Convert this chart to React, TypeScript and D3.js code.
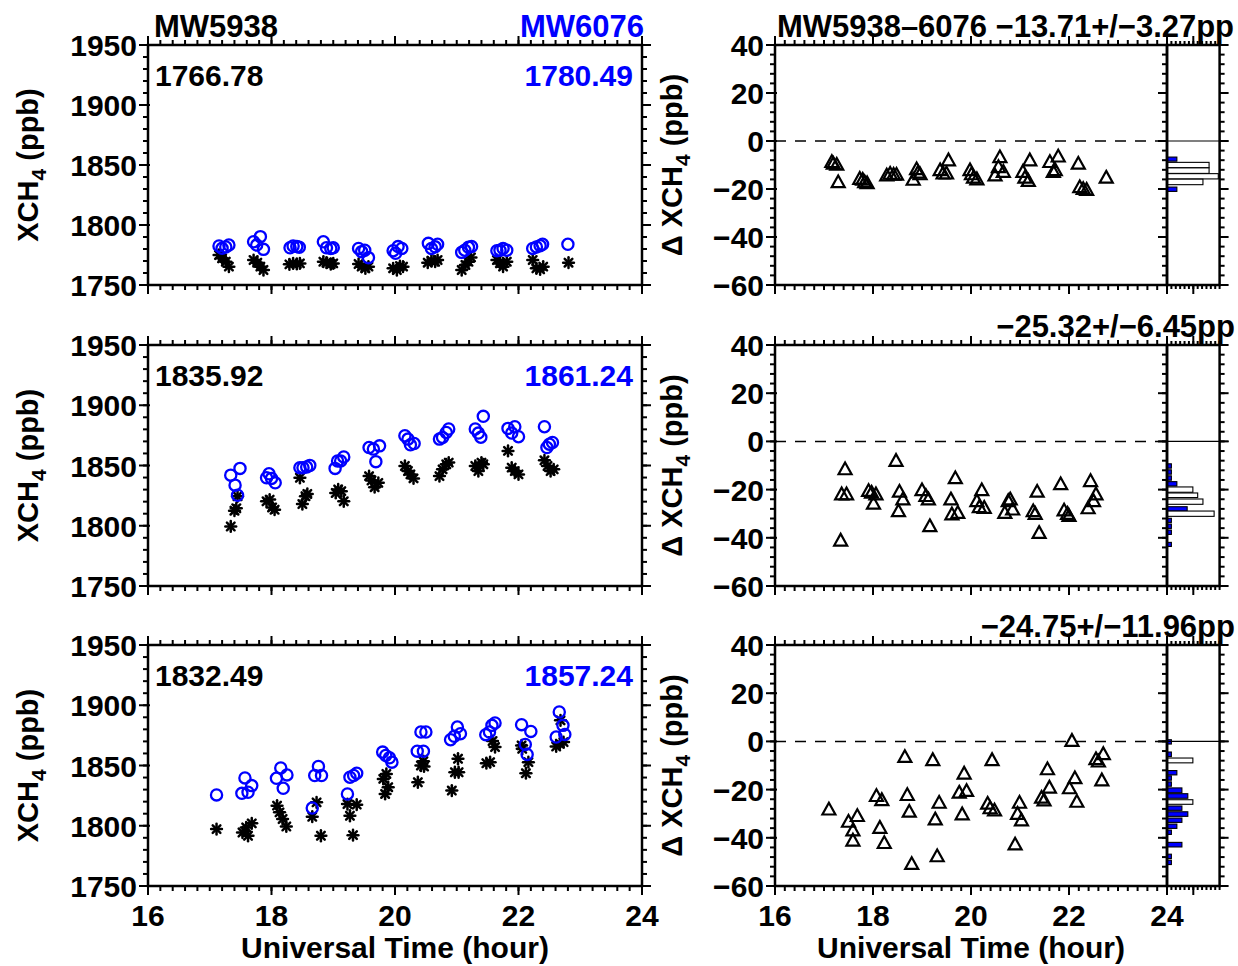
import React from 'react';
import * as d3 from 'd3';

// ---------------- data ----------------
type P = [number, number];
type Bin = [number, number, number, number]; // [upper, lower, length, isBlue]

const xTicks = [16, 18, 20, 22, 24];
const leftYTicks = [1750, 1800, 1850, 1900, 1950];
const diffYTicks = [-60, -40, -20, 0, 20, 40];

const station1 = 'MW5938';
const station2 = 'MW6076';

const mean5938 = ['1766.78', '1835.92', '1832.49'];
const mean6076 = ['1780.49', '1861.24', '1857.24'];
// the reference cuts these titles at the right edge, after "pp"
const diffTitles = ['MW5938\u20136076 \u221213.71+/\u22123.27pp', '\u221225.32+/\u22126.45pp', '\u221224.75+/\u221211.96pp'];

const mw5938Day1: P[] = [
  [17.15, 1775], [17.2, 1772.2], [17.26, 1769.4], [17.31, 1765.3],
  [17.71, 1770.8], [17.77, 1768.6], [17.82, 1765.3], [17.87, 1762.5],
  [18.29, 1767.2], [18.35, 1768], [18.41, 1767.6], [18.46, 1768],
  [18.84, 1769.4], [18.89, 1768.6], [18.96, 1767.5], [19.0, 1768],
  [19.41, 1767.5], [19.46, 1765.3], [19.52, 1763.9], [19.57, 1765.3],
  [19.97, 1763.9], [20.03, 1762.5], [20.08, 1765.8], [20.13, 1765.3],
  [20.53, 1768.6], [20.59, 1770.3], [20.65, 1769.4], [20.69, 1770.8],
  [21.08, 1762.5], [21.14, 1766.7], [21.19, 1769.4], [21.23, 1773],
  [21.65, 1770.8], [21.7, 1768], [21.75, 1765.3], [21.81, 1769.4],
  [22.23, 1770.8], [22.29, 1763.9], [22.35, 1763], [22.4, 1765.3],
  [22.81, 1768.6],
];
const mw6076Day1: P[] = [
  [17.15, 1782.5], [17.2, 1780.6], [17.26, 1781.7], [17.31, 1783.3],
  [17.71, 1786.1], [17.76, 1783.3], [17.82, 1790.3], [17.87, 1779.7],
  [18.3, 1781], [18.35, 1782.5], [18.41, 1782], [18.45, 1781.5],
  [18.84, 1786], [18.89, 1781], [18.96, 1780.5], [19.0, 1781],
  [19.41, 1780.5], [19.46, 1777.8], [19.51, 1779], [19.57, 1772.8],
  [19.97, 1778.6], [20.01, 1776.4], [20.05, 1782], [20.11, 1780.5],
  [20.54, 1784.7], [20.59, 1780.5], [20.65, 1781.8], [20.69, 1783.9],
  [21.08, 1777.2], [21.13, 1779], [21.19, 1781.4], [21.24, 1782],
  [21.65, 1778.6], [21.7, 1779], [21.75, 1780.5], [21.81, 1779],
  [22.23, 1780.5], [22.29, 1781.7], [22.35, 1782.8], [22.39, 1783.9],
  [22.8, 1783.9],
];
const mw5938Day2: P[] = [
  [17.34, 1799.4], [17.4, 1812.5], [17.43, 1814.5], [17.45, 1824.5],
  [17.92, 1820.3], [17.97, 1821.7], [18.01, 1815.2], [18.05, 1813.3],
  [18.46, 1839.8], [18.5, 1818], [18.55, 1824.5], [18.58, 1826.4],
  [19.04, 1827.2], [19.08, 1830.1], [19.13, 1828.7], [19.17, 1820.3],
  [19.58, 1841.2], [19.62, 1837.6], [19.67, 1832], [19.73, 1835.6],
  [20.16, 1849.6], [20.21, 1845.4], [20.25, 1842.6], [20.3, 1839.3],
  [20.72, 1841.2], [20.77, 1846.8], [20.83, 1851], [20.87, 1852.4],
  [21.3, 1849.6], [21.35, 1845.4], [21.4, 1852.4], [21.43, 1851],
  [21.83, 1862.1], [21.89, 1848.2], [21.94, 1845.4], [22.0, 1842.6],
  [22.42, 1854.3], [22.47, 1849.6], [22.52, 1845.4], [22.57, 1846.8],
];
const mw6076Day2: P[] = [
  [17.34, 1842], [17.41, 1833.7], [17.45, 1825.3], [17.49, 1847.6],
  [17.92, 1839.8], [17.96, 1843.1], [18.0, 1839.3], [18.06, 1835.6],
  [18.46, 1848.2], [18.51, 1848.2], [18.57, 1848.7], [18.62, 1850.1],
  [19.03, 1847.6], [19.07, 1853.8], [19.12, 1853.8], [19.17, 1857.1],
  [19.58, 1864.9], [19.65, 1863.6], [19.69, 1853.2], [19.75, 1866.3],
  [20.16, 1874.7], [20.21, 1871.9], [20.25, 1867.2], [20.31, 1868.2],
  [20.72, 1871.9], [20.77, 1873.3], [20.83, 1877.4], [20.87, 1880.3],
  [21.3, 1880.3], [21.35, 1876.9], [21.39, 1873.5], [21.43, 1890.8],
  [21.83, 1880.8], [21.89, 1876.9], [21.94, 1882.2], [22.0, 1873.9],
  [22.42, 1882.2], [22.46, 1864.9], [22.5, 1867.7], [22.55, 1869.1],
];
const mw5938Day3: P[] = [
  [17.11, 1797.2],
  [17.53, 1794.4], [17.59, 1798.6], [17.62, 1791.7], [17.68, 1802],
  [18.09, 1816.7], [18.13, 1811.1], [18.18, 1805.6], [18.24, 1799.4],
  [18.66, 1807.5], [18.73, 1819.4], [18.8, 1791.7],
  [19.23, 1818], [19.27, 1808.3], [19.32, 1792.2], [19.38, 1817.5],
  [19.81, 1838.9], [19.84, 1826.4], [19.86, 1843], [19.89, 1832],
  [20.37, 1836.1], [20.42, 1850], [20.46, 1853.6], [20.47, 1849.2],
  [20.92, 1829.2], [20.97, 1844.4], [21.02, 1855.6], [21.03, 1844.4],
  [21.48, 1851.9], [21.54, 1852.8], [21.58, 1870.3], [21.62, 1865.3],
  [22.05, 1866.7], [22.06, 1863.9], [22.12, 1843.6], [22.16, 1852.8],
  [22.61, 1865.8], [22.67, 1868.1], [22.68, 1887.5], [22.73, 1869.4],
];
const mw6076Day3: P[] = [
  [17.11, 1825.6],
  [17.52, 1826.9], [17.57, 1839.7], [17.62, 1827.8], [17.68, 1833.3],
  [18.08, 1839.4], [18.15, 1848], [18.19, 1831.1], [18.25, 1842.2],
  [18.66, 1814.7], [18.7, 1841.7], [18.76, 1849.2], [18.81, 1841.7],
  [19.23, 1826.4], [19.27, 1840.3], [19.33, 1841.7], [19.38, 1843.6],
  [19.8, 1861.1], [19.85, 1858.3], [19.91, 1856.4], [19.95, 1852.8],
  [20.36, 1861.9], [20.42, 1877.8], [20.46, 1861.9], [20.5, 1877.8],
  [20.9, 1871.4], [20.96, 1874.2], [21.01, 1881.9], [21.06, 1876.4],
  [21.47, 1875.6], [21.53, 1877.8], [21.57, 1883.3], [21.62, 1885.3],
  [22.05, 1883.9], [22.11, 1867.5], [22.14, 1859.2], [22.2, 1878.3],
  [22.61, 1873.6], [22.66, 1894.4], [22.72, 1883.3], [22.75, 1875.8],
];

const diffDay1: P[] = [
  [17.16, -8.8], [17.19, -9.5], [17.26, -9.9], [17.29, -17.2],
  [17.73, -15.8], [17.79, -16.2], [17.83, -17.2], [17.88, -17.6],
  [18.28, -14.4], [18.35, -13.7], [18.42, -14.1], [18.48, -14.1],
  [18.82, -16.2], [18.89, -11.8], [18.92, -13.2], [18.96, -13.9],
  [19.37, -12.2], [19.43, -13.6], [19.5, -13.6], [19.54, -8.1],
  [19.98, -12.2], [20.01, -13.9], [20.05, -15.3], [20.12, -16],
  [20.49, -14.4], [20.56, -10.9], [20.59, -6.8], [20.66, -12.9],
  [21.06, -12.9], [21.1, -15.3], [21.17, -16.7], [21.2, -8.1],
  [21.61, -8.8], [21.68, -12.9], [21.72, -12.2], [21.78, -6.5],
  [22.19, -9.5], [22.22, -19.3], [22.29, -20], [22.36, -20.4],
  [22.76, -15.3],
];
const diffDay2: P[] = [
  [17.34, -41.2], [17.36, -22], [17.43, -11.6], [17.46, -22],
  [17.91, -20.6], [17.97, -21.3], [18.01, -25.9], [18.06, -22],
  [18.47, -8.1], [18.52, -29], [18.54, -20.9], [18.61, -24.1],
  [19.0, -20.3], [19.08, -22.7], [19.13, -24.1], [19.16, -35.2],
  [19.59, -24.1], [19.61, -30.3], [19.68, -15.3], [19.73, -29.7],
  [20.12, -24.8], [20.17, -27.3], [20.22, -20.3], [20.27, -27.6],
  [20.69, -29.7], [20.76, -24.8], [20.8, -24.1], [20.85, -28.3],
  [21.27, -29], [21.31, -30.1], [21.35, -20.9], [21.39, -38],
  [21.83, -17.8], [21.9, -28.7], [21.97, -30.1], [22.0, -31],
  [22.39, -27.8], [22.44, -16.5], [22.5, -24.8], [22.55, -22],
];
const diffDay3: P[] = [
  [17.1, -28.3],
  [17.5, -33.4], [17.59, -37], [17.59, -41.2], [17.68, -31],
  [18.07, -22.7], [18.14, -35.9], [18.18, -24.4], [18.23, -42.2],
  [18.65, -6.5], [18.7, -22.3], [18.74, -29.2], [18.79, -50.9],
  [19.22, -7.8], [19.27, -32.4], [19.31, -47.7], [19.35, -25.5],
  [19.76, -21.3], [19.82, -30.3], [19.86, -13.4], [19.91, -20.6],
  [20.34, -25.9], [20.39, -27.8], [20.43, -7.8], [20.48, -28.7],
  [20.9, -42.8], [20.95, -30.1], [20.99, -25.5], [21.03, -32.8],
  [21.44, -23.4], [21.49, -24.5], [21.56, -11.6], [21.6, -19.2],
  [22.01, -19.5], [22.06, 0.2], [22.12, -15.3], [22.16, -25.1],
  [22.55, -7.4], [22.6, -8.4], [22.67, -16.2], [22.7, -5.3],
];

const histDay1: Bin[] = [
  [-6.7, -8.4, 4.5, 1], [-8.9, -11.1, 19.2, 0], [-11.2, -13.5, 19.2, 0],
  [-13.6, -15.8, 23.4, 0], [-15.9, -18.2, 16.4, 0], [-19.2, -21.0, 4.5, 1],
];
const histDay2: Bin[] = [
  [-9.3, -11.1, 2, 1], [-11.8, -13.6, 2, 1], [-14.3, -16.1, 2, 1], [-16.7, -18.5, 4.5, 1],
  [-18.9, -21.1, 11.8, 0], [-21.4, -23.3, 14, 0], [-23.9, -26.1, 16.4, 0],
  [-27.1, -28.9, 9.2, 1], [-28.9, -31.1, 21.5, 0], [-31.9, -33.6, 2, 1],
  [-34.3, -36.1, 2, 1], [-36.8, -38.6, 2, 1], [-41.9, -43.6, 2, 1],
];
const histDay3: Bin[] = [
  [0.7, -1.1, 2, 1], [-4.4, -6.3, 2, 1], [-6.9, -8.9, 11.8, 0], [-12.1, -13.9, 4.5, 1],
  [-14.3, -16.1, 2, 1], [-16.8, -18.6, 2, 1], [-19.3, -21.3, 6.8, 1], [-21.7, -23.6, 9.5, 1],
  [-24.2, -26.1, 11.8, 0], [-26.8, -28.6, 6.8, 1], [-29.2, -31.1, 9.5, 1], [-31.8, -33.6, 6.8, 1],
  [-34.3, -36.1, 4.5, 1], [-36.8, -38.6, 2, 1], [-41.9, -43.8, 6.8, 1], [-46.8, -48.6, 2, 1],
  [-49.3, -51.1, 2, 1],
];

const days = [
  { black: mw5938Day1, blue: mw6076Day1, diff: diffDay1, hist: histDay1 },
  { black: mw5938Day2, blue: mw6076Day2, diff: diffDay2, hist: histDay2 },
  { black: mw5938Day3, blue: mw6076Day3, diff: diffDay3, hist: histDay3 },
];

// ---------------- layout ----------------
const W = 1238;
const H = 966;
const LX: [number, number] = [148, 642];
const RX: [number, number] = [775, 1167];
const HX: [number, number] = [1167, 1219.6];
const ROWS: [number, number][] = [[45, 285], [345, 586], [645, 886]];
const FONT = '"Liberation Sans", Arial, Helvetica, sans-serif';
const BLUE = '#0000ff';
const AX = 2.5;
const MAJ = 9;
const MIN = 5;

const range = (a: number, b: number, s: number) => d3.range(Math.round((b - a) / s) + 1).map((i) => a + i * s);

function Asterisk({ x, y }: { x: number; y: number }) {
  const r = 5.4;
  return (
    <g stroke="#000" strokeWidth={2.5} strokeLinecap="round">
      {[0, 45, 90, 135].map((a) => {
        const dx = r * Math.cos((a * Math.PI) / 180);
        const dy = r * Math.sin((a * Math.PI) / 180);
        return <line key={a} x1={x - dx} y1={y - dy} x2={x + dx} y2={y + dy} />;
      })}
    </g>
  );
}

function Triangle({ x, y }: { x: number; y: number }) {
  const s = 6.5;
  return (
    <path
      d={`M${x},${y - s * 1.05} L${x + s},${y + s * 0.75} L${x - s},${y + s * 0.75} Z`}
      fill="none"
      stroke="#000"
      strokeWidth={2.2}
      strokeLinejoin="miter"
    />
  );
}

function XTicks({ x, yb, yt, minorStep }: { x: d3.ScaleLinear<number, number>; yb: number; yt: number; minorStep: number }) {
  return (
    <g stroke="#000" strokeWidth={2}>
      {range(16, 24, minorStep).map((t, i) => (
        <g key={i}>
          <line x1={x(t)} x2={x(t)} y1={yb} y2={yb + MIN} />
          <line x1={x(t)} x2={x(t)} y1={yt} y2={yt - MIN} />
        </g>
      ))}
      {xTicks.map((t) => (
        <g key={t}>
          <line x1={x(t)} x2={x(t)} y1={yb} y2={yb + MAJ} />
          <line x1={x(t)} x2={x(t)} y1={yt} y2={yt - MAJ} />
        </g>
      ))}
    </g>
  );
}

function YTicks({ y, majors, minors, xl, xr, rightDir }: { y: d3.ScaleLinear<number, number>; majors: number[]; minors: number[]; xl: number; xr: number; rightDir: number }) {
  return (
    <g stroke="#000" strokeWidth={2}>
      {minors.map((v, i) => (
        <g key={i}>
          <line x1={xl} x2={xl - MIN} y1={y(v)} y2={y(v)} />
          <line x1={xr} x2={xr + rightDir * MIN} y1={y(v)} y2={y(v)} />
        </g>
      ))}
      {majors.map((v) => (
        <g key={v}>
          <line x1={xl + 2} x2={xl - MAJ} y1={y(v)} y2={y(v)} />
          <line x1={xr} x2={xr + rightDir * MAJ} y1={y(v)} y2={y(v)} />
        </g>
      ))}
    </g>
  );
}

function YLabel({ x, y, delta }: { x: number; y: number; delta?: boolean }) {
  return (
    <text transform={`translate(${x},${y}) rotate(-90)`} textAnchor="middle" fontFamily={FONT} fontWeight="bold" fontSize={29} fill="#000">
      {delta ? '\u0394 ' : ''}XCH
      <tspan dy={8} fontSize={21}>4</tspan>
      <tspan dy={-8}> (ppb)</tspan>
    </text>
  );
}

function LeftPanel({ row }: { row: number }) {
  const [y0, y1] = ROWS[row];
  const d = days[row];
  const x = d3.scaleLinear().domain([16, 24]).range(LX);
  const y = d3.scaleLinear().domain([1750, 1950]).range([y1, y0]);
  const last = row === 2;
  return (
    <g>
      <XTicks x={x} yb={y1} yt={y0} minorStep={0.2} />
      <YTicks y={y} majors={leftYTicks} minors={range(1750, 1950, 10)} xl={LX[0]} xr={LX[1]} rightDir={1} />
      <rect x={LX[0]} y={y0} width={LX[1] - LX[0]} height={y1 - y0} fill="none" stroke="#000" strokeWidth={AX} />
      {leftYTicks.map((v) => (
        <text key={v} x={137} y={y(v) + 11} textAnchor="end" fontFamily={FONT} fontWeight="bold" fontSize={30}>
          {v}
        </text>
      ))}
      {d.black.map(([t, v], i) => (
        <Asterisk key={'b' + i} x={x(t)} y={y(v)} />
      ))}
      {d.blue.map(([t, v], i) => (
        <circle key={'c' + i} cx={x(t)} cy={y(v)} r={5.6} fill="none" stroke={BLUE} strokeWidth={2.3} />
      ))}
      <text x={155} y={y0 + 41} fontFamily={FONT} fontWeight="bold" fontSize={30}>{mean5938[row]}</text>
      <text x={633} y={y0 + 41} textAnchor="end" fontFamily={FONT} fontWeight="bold" fontSize={30} fill={BLUE}>{mean6076[row]}</text>
      {row === 0 && (
        <g fontFamily={FONT} fontWeight="bold" fontSize={31}>
          <text x={154} y={37}>{station1}</text>
          <text x={644} y={37} textAnchor="end" fill={BLUE}>{station2}</text>
        </g>
      )}
      <YLabel x={38} y={(y0 + y1) / 2} />
      {last && (
        <g fontFamily={FONT} fontWeight="bold">
          {xTicks.map((t) => (
            <text key={t} x={x(t)} y={926} textAnchor="middle" fontSize={30}>{t}</text>
          ))}
          <text x={(LX[0] + LX[1]) / 2} y={958} textAnchor="middle" fontSize={30}>Universal Time (hour)</text>
        </g>
      )}
    </g>
  );
}

function RightPanel({ row }: { row: number }) {
  const [y0, y1] = ROWS[row];
  const d = days[row];
  const x = d3.scaleLinear().domain([16, 24]).range(RX);
  const y = d3.scaleLinear().domain([-60, 40]).range([y1, y0]);
  const hx = d3.scaleLinear().domain([0, 24]).range(HX);
  const last = row === 2;
  const minors = range(-60, 40, 4);
  return (
    <g>
      <XTicks x={x} yb={y1} yt={y0} minorStep={0.2} />
      <g stroke="#000" strokeWidth={2}>
        {minors.map((v, i) => (
          <line key={i} x1={RX[0]} x2={RX[0] - MIN} y1={y(v)} y2={y(v)} />
        ))}
        {diffYTicks.map((v) => (
          <line key={v} x1={RX[0] + 2} x2={RX[0] - MAJ} y1={y(v)} y2={y(v)} />
        ))}
        {minors.map((v, i) => (
          <line key={'m' + i} x1={RX[1]} x2={RX[1] - MIN} y1={y(v)} y2={y(v)} />
        ))}
        {diffYTicks.map((v) => (
          <line key={'M' + v} x1={RX[1]} x2={RX[1] - MAJ} y1={y(v)} y2={y(v)} />
        ))}
        {minors.map((v, i) => (
          <line key={'r' + i} x1={HX[1]} x2={HX[1] + MIN} y1={y(v)} y2={y(v)} />
        ))}
        {diffYTicks.map((v) => (
          <line key={'R' + v} x1={HX[1]} x2={HX[1] + MAJ} y1={y(v)} y2={y(v)} />
        ))}
        {range(0, 24, 2).map((c, i) => (
          <g key={'h' + i}>
            <line x1={hx(c)} x2={hx(c)} y1={y1} y2={y1 + MIN - 1} />
            <line x1={hx(c)} x2={hx(c)} y1={y0} y2={y0 - MIN + 1} />
          </g>
        ))}
        {[12].map((c) => (
          <g key={'H' + c}>
            <line x1={hx(c)} x2={hx(c)} y1={y1} y2={y1 + MAJ} />
            <line x1={hx(c)} x2={hx(c)} y1={y0} y2={y0 - MAJ} />
          </g>
        ))}
      </g>
      {d.hist.map(([hi, lo, len, isBlue], i) => (
        <rect
          key={'bar' + i}
          x={hx(0)}
          y={y(hi)}
          width={hx(len) - hx(0)}
          height={y(lo) - y(hi)}
          fill={isBlue ? BLUE : '#fff'}
          stroke="#000"
          strokeWidth={1.1}
        />
      ))}
      <line x1={RX[1] - 8} x2={HX[1] + 9} y1={y(0)} y2={y(0)} stroke="#000" strokeWidth={1.2} />
      <line x1={RX[0]} x2={RX[1]} y1={y(0)} y2={y(0)} stroke="#000" strokeWidth={1.5} strokeDasharray="11,9" />
      <rect x={RX[0]} y={y0} width={RX[1] - RX[0]} height={y1 - y0} fill="none" stroke="#000" strokeWidth={AX} />
      <rect x={HX[0]} y={y0} width={HX[1] - HX[0]} height={y1 - y0} fill="none" stroke="#000" strokeWidth={AX} />
      {d.diff.map(([t, v], i) => (
        <Triangle key={i} x={x(t)} y={y(v)} />
      ))}
      {diffYTicks.map((v) => (
        <text key={v} x={764} y={y(v) + 11} textAnchor="end" fontFamily={FONT} fontWeight="bold" fontSize={30}>
          {v < 0 ? '\u2212' + Math.abs(v) : v}
        </text>
      ))}
      {row === 0 ? (
        <text x={777} y={37} fontFamily={FONT} fontWeight="bold" fontSize={31} textLength={457} lengthAdjust="spacingAndGlyphs">{diffTitles[0]}</text>
      ) : (
        <text x={1235} y={y0 - 8} textAnchor="end" fontFamily={FONT} fontWeight="bold" fontSize={31}>{diffTitles[row]}</text>
      )}
      <YLabel x={682} y={(y0 + y1) / 2} delta />
      {last && (
        <g fontFamily={FONT} fontWeight="bold">
          {xTicks.map((t) => (
            <text key={t} x={x(t)} y={926} textAnchor="middle" fontSize={30}>{t}</text>
          ))}
          <text x={(RX[0] + RX[1]) / 2} y={958} textAnchor="middle" fontSize={30}>Universal Time (hour)</text>
        </g>
      )}
    </g>
  );
}

export default function App() {
  return (
    <svg
      width={W}
      height={H}
      viewBox={`0 0 ${W} ${H}`}
      style={{ position: 'absolute', left: 0, top: 0, background: '#fff' }}
    >
      <rect width={W} height={H} fill="#fff" />
      {[0, 1, 2].map((r) => (
        <g key={r}>
          <LeftPanel row={r} />
          <RightPanel row={r} />
        </g>
      ))}
    </svg>
  );
}
